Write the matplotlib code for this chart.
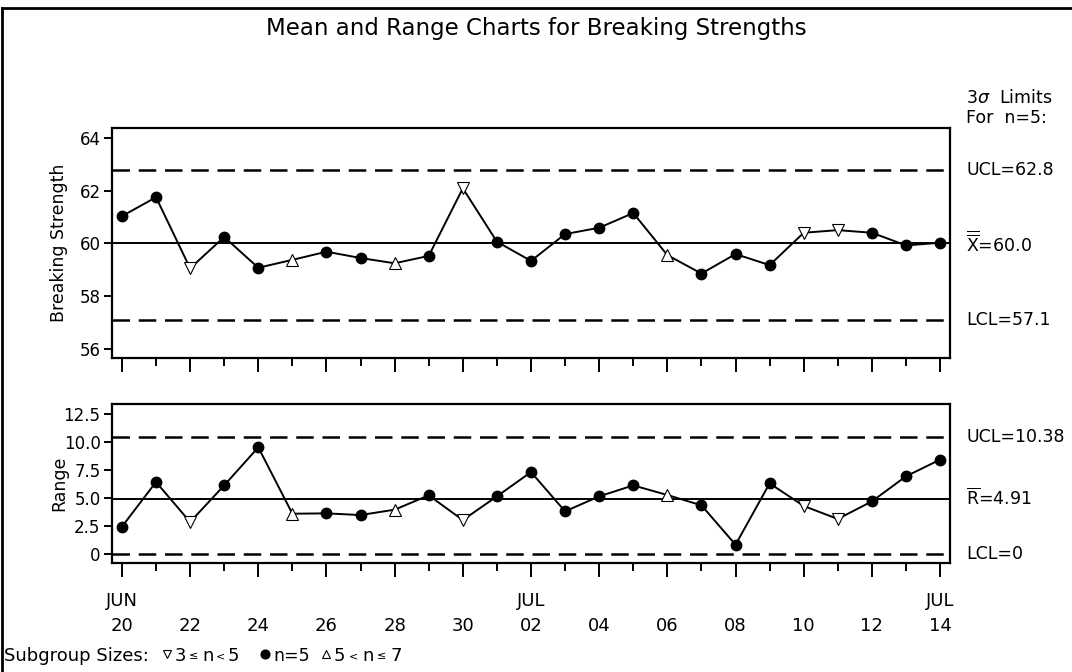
import matplotlib
matplotlib.use("Agg")
import matplotlib.pyplot as plt
from matplotlib.lines import Line2D
import numpy as np

plt.rcParams['font.family'] = ['DejaVu Sans']
plt.rcParams['mathtext.fontset'] = 'dejavusans'

# ---- data ----
days = ["20", "21", "22", "23", "24", "25", "26", "27", "28", "29", "30",
        "01", "02", "03", "04", "05", "06", "07", "08", "09", "10", "11", "12", "13", "14"]
months = ["JUN"] * 11 + ["JUL"] * 14
means = [61.03, 61.75, 59.05, 60.24, 59.07, 59.37, 59.68, 59.44, 59.24, 59.52, 62.09,
         60.06, 59.33, 60.35, 60.59, 61.15, 59.55, 58.85, 59.59, 59.17, 60.40, 60.50,
         60.40, 59.92, 60.02]
ranges = [2.41, 6.40, 2.83, 6.10, 9.50, 3.57, 3.60, 3.45, 3.93, 5.21, 3.00,
          5.12, 7.29, 3.78, 5.12, 6.10, 5.24, 4.32, 0.80, 6.28, 4.26, 3.10,
          4.67, 6.91, 8.40]
# subgroup size class: -1 -> 3<=n<5, 0 -> n=5, 1 -> 5<n<=7
size_class = [0, 0, -1, 0, 0, 1, 0, 0, 1, 0, -1,
              0, 0, 0, 0, 0, 1, 0, 0, 0, -1, -1, 0, 0, 0]
xbar_limits = {"UCL": 62.8, "center": 60.0, "LCL": 57.1}
r_limits = {"UCL": 10.38, "center": 4.91, "LCL": 0.0}
mean_ticks = [56, 58, 60, 62, 64]
range_ticks = [0, 2.5, 5.0, 7.5, 10.0, 12.5]
range_ticklabels = ["0", "2.5", "5.0", "7.5", "10.0", "12.5"]

W, H = 1072, 672
fig = plt.figure(figsize=(W / 100, H / 100), dpi=100)

def px_axes(left, top, right, bottom):
    return fig.add_axes([left / W, 1 - bottom / H, (right - left) / W, (bottom - top) / H])

ax1 = px_axes(111.7, 128.3, 950.3, 358.0)
ax2 = px_axes(111.7, 404.0, 950.3, 563.3)

x = np.arange(len(days))
FS = 13
RFS = 12.5
YFS = 12
dash = (0, (7, 3.5))
TS = "="

def draw(ax, vals, lim):
    ax.plot(x, vals, color='black', lw=1.4, zorder=2)
    for xi, v, c in zip(x, vals, size_class):
        if c == 0:
            ax.plot(xi, v, marker='o', ms=7.5, color='black', zorder=3)
        elif c < 0:
            ax.plot(xi, v, marker='v', ms=9, mfc='white', mec='black', mew=0.8, zorder=3)
        else:
            ax.plot(xi, v, marker='^', ms=9, mfc='white', mec='black', mew=0.8, zorder=3)
    ax.axhline(lim["center"], color='black', lw=1.4, zorder=1)
    ax.axhline(lim["UCL"], color='black', lw=1.8, ls=dash, zorder=1)
    ax.axhline(lim["LCL"], color='black', lw=1.8, ls=dash, zorder=1)
    ax.set_xlim(-0.30, len(days) - 1 + 0.30)
    for s in ax.spines.values():
        s.set_linewidth(1.6)
    ax.tick_params(axis='y', direction='out', length=6, width=1.4, labelsize=YFS, pad=2)
    ax.set_xticks(x[::2])
    ax.set_xticks(x[1::2], minor=True)
    ax.tick_params(axis='x', which='major', direction='out', length=10, width=1.4)
    ax.tick_params(axis='x', which='minor', direction='out', length=6, width=1.4)

draw(ax1, means, xbar_limits)
ax1.set_ylim(55.64, 64.37)
ax1.set_yticks(mean_ticks)
ax1.set_yticklabels([str(t) for t in mean_ticks])
ax1.set_xticklabels([])
ax1.set_ylabel("Breaking Strength", fontsize=RFS)

draw(ax2, ranges, r_limits)
ax2.set_ylim(-0.86, 13.37)
ax2.set_yticks(range_ticks)
ax2.set_yticklabels(range_ticklabels)
labels = []
first_jul = months.index("JUL")
first_jul_even = next(i for i in x[::2] if i >= first_jul)
for i in x[::2]:
    if i == 0 or i == first_jul_even or i == len(days) - 1:
        labels.append(f"{months[i]}\n{days[i]}")
    else:
        labels.append(f"\n{days[i]}")
ax2.set_xticklabels(labels, fontsize=FS, linespacing=1.5)
ax2.tick_params(axis='x', which='major', pad=11)
ax2.set_ylabel("Range", fontsize=RFS)
ax1.yaxis.set_label_coords(-0.052, 0.5)
ax2.yaxis.set_label_coords(-0.052, 0.5)

# title
fig.text(536 / W, 1 - 28 / H, "Mean and Range Charts for Breaking Strengths",
         ha='center', va='center', fontsize=16.5)

# right side annotations
tx = 966 / W
fig.text(tx, 1 - 98 / H, r"3$\it{\sigma}$  Limits", ha='left', va='center', fontsize=RFS)
fig.text(tx, 1 - 118 / H, "For  n" + TS + "5:", ha='left', va='center', fontsize=RFS)

def rtext(ax, y, s):
    ax.annotate(s, xy=(1, y), xycoords=('axes fraction', 'data'), xytext=(11.5, 0),
                textcoords='offset points', ha='left', va='center', fontsize=RFS,
                annotation_clip=False)

rtext(ax1, xbar_limits["UCL"], "UCL" + TS + "%.1f" % xbar_limits["UCL"])
rtext(ax1, xbar_limits["center"], r"$\overline{\overline{\mathrm{X}}}$" + TS + "%.1f" % xbar_limits["center"])
rtext(ax1, xbar_limits["LCL"], "LCL" + TS + "%.1f" % xbar_limits["LCL"])
rtext(ax2, r_limits["UCL"], "UCL" + TS + "%.2f" % r_limits["UCL"])
rtext(ax2, r_limits["center"], r"$\overline{\mathrm{R}}$" + TS + "%.2f" % r_limits["center"])
rtext(ax2, r_limits["LCL"], "LCL" + TS + "%d" % r_limits["LCL"])

# legend line at bottom
ly = 1 - 656 / H
fig.text(4 / W, ly, "Subgroup Sizes:", ha='left', va='center', fontsize=FS)
def mk(xp, m, filled):
    fig.add_artist(Line2D([xp / W], [ly + 2 / H], marker=m, ms=5.5 if not filled else 6.5,
                          mfc='black' if filled else 'white', mec='black', mew=0.8,
                          transform=fig.transFigure))
def t(xp, s, fs=FS):
    fig.text(xp / W, ly, s, ha='left', va='center', fontsize=fs)
mk(167, 'v', False)
t(175, "3"); t(189, "≤", 8); t(202, "n"); t(216, "<", 8); t(228, "5")
mk(265, 'o', True)
t(273, "n" + TS + "5", 12.5)
mk(326, '^', False)
t(334, "5"); t(349, "<", 8); t(362, "n"); t(377, "≤", 8); t(391, "7")

# outer frame (top and left)
fig.add_artist(Line2D([2 / W, 2 / W], [0, 1 - 8 / H], color='black', lw=2, transform=fig.transFigure))
fig.add_artist(Line2D([2 / W, 1], [1 - 8 / H, 1 - 8 / H], color='black', lw=2, transform=fig.transFigure))

fig.savefig("out.png", dpi=100, facecolor='white')
